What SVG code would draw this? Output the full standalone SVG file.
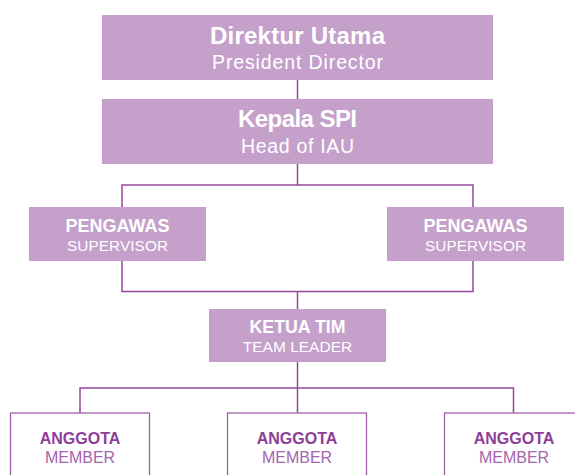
<svg xmlns="http://www.w3.org/2000/svg" width="575" height="475" viewBox="0 0 575 475">
  <style>
    .box { fill: #c4a0cb; }
    .mbox { fill: #ffffff; stroke: #a060a8; stroke-width: 1.3; }
    .conn { fill: none; stroke: #94479c; stroke-width: 1.5; }
    text { font-family: "Liberation Sans", Arial, sans-serif; text-anchor: middle; }
    .w { fill: #ffffff; }
    .b { font-weight: bold; }
    .m1 { fill: #8e3e98; font-weight: bold; font-size: 16px; }
    .m2 { fill: #a565ad; font-size: 16px; }
  </style>
  <rect width="575" height="475" fill="#ffffff"/>
  <g id="connectors">
    <path class="conn" d="M297.5 80V99"/>
    <path class="conn" d="M297.5 164V185M122 207V185H473V207"/>
    <path class="conn" d="M122 261V291.5H473V261M297.5 291.5V309"/>
    <path class="conn" d="M297.5 362V413M80 413V388H513.5V413"/>
  </g>
  <g id="direktur-utama">
    <rect class="box" x="102" y="15" width="391" height="65"/>
    <text class="w b" x="297.5" y="44" font-size="24" textLength="175" lengthAdjust="spacing">Direktur Utama</text>
    <text class="w" x="297.5" y="69" font-size="19.5" textLength="171" lengthAdjust="spacing">President Director</text>
  </g>
  <g id="kepala-spi">
    <rect class="box" x="102" y="99" width="391" height="65"/>
    <text class="w b" x="297.5" y="127.3" font-size="24" textLength="119" lengthAdjust="spacing">Kepala SPI</text>
    <text class="w" x="297.5" y="152.7" font-size="19.5" textLength="113" lengthAdjust="spacing">Head of IAU</text>
  </g>
  <g id="pengawas-left">
    <rect class="box" x="29" y="207" width="177" height="54"/>
    <text class="w b" x="117.5" y="232.3" font-size="18">PENGAWAS</text>
    <text class="w" x="117.5" y="251" font-size="15.3" textLength="101" lengthAdjust="spacing">SUPERVISOR</text>
  </g>
  <g id="pengawas-right">
    <rect class="box" x="387" y="207" width="177" height="54"/>
    <text class="w b" x="475.5" y="232.3" font-size="18">PENGAWAS</text>
    <text class="w" x="475.5" y="251" font-size="15.3" textLength="101" lengthAdjust="spacing">SUPERVISOR</text>
  </g>
  <g id="ketua-tim">
    <rect class="box" x="209" y="309" width="177" height="53"/>
    <text class="w b" x="297.5" y="332.7" font-size="17.5" textLength="96" lengthAdjust="spacingAndGlyphs">KETUA TIM</text>
    <text class="w" x="297.5" y="351.7" font-size="15.5">TEAM LEADER</text>
  </g>
  <g id="anggota-1">
    <rect class="mbox" x="10.5" y="413" width="139" height="80"/>
    <text class="m1" x="80" y="444">ANGGOTA</text>
    <text class="m2" x="80" y="463.3">MEMBER</text>
  </g>
  <g id="anggota-2">
    <rect class="mbox" x="227.5" y="413" width="139" height="80"/>
    <text class="m1" x="297" y="444">ANGGOTA</text>
    <text class="m2" x="297" y="463.3">MEMBER</text>
  </g>
  <g id="anggota-3">
    <rect class="mbox" x="444.5" y="413" width="139" height="80"/>
    <text class="m1" x="514" y="444">ANGGOTA</text>
    <text class="m2" x="514" y="463.3">MEMBER</text>
  </g>
</svg>
